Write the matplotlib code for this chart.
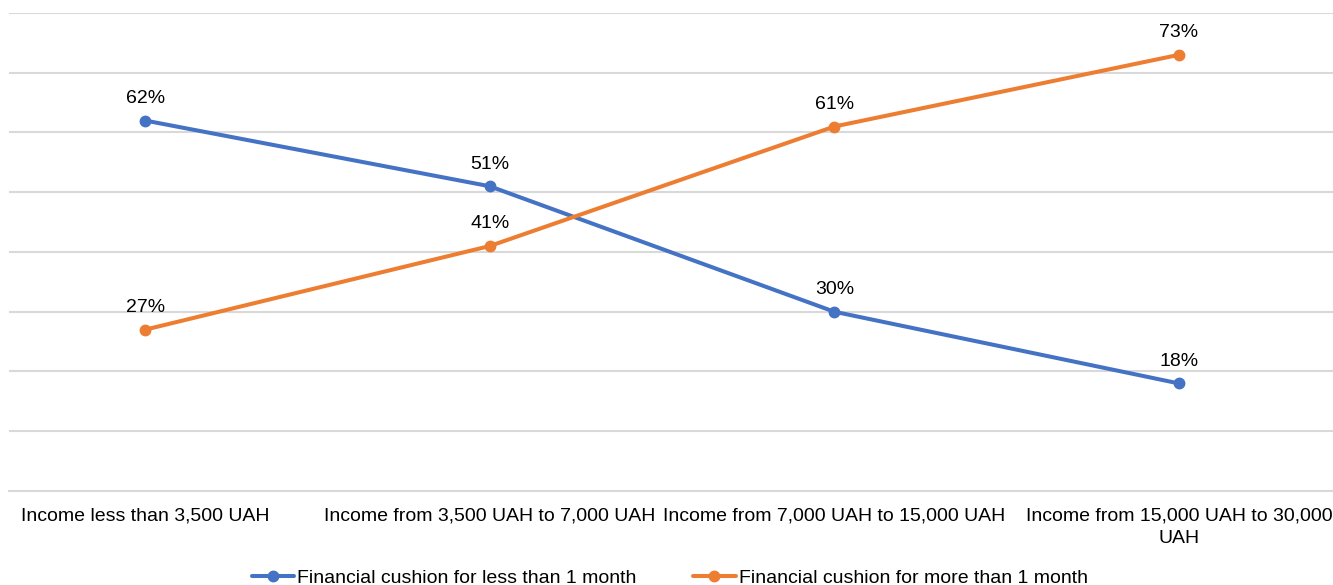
"""
Financial cushion by household income: line chart with value labels
"""
import matplotlib
matplotlib.use("Agg")
import matplotlib.pyplot as plt

plt.rcParams["font.family"] = ["Liberation Sans", "DejaVu Sans"]

categories = [
    "Income less than 3,500 UAH",
    "Income from 3,500 UAH to 7,000 UAH",
    "Income from 7,000 UAH to 15,000 UAH",
    "Income from 15,000 UAH to 30,000\nUAH",
]
less_than_month = [62, 51, 30, 18]
more_than_month = [27, 41, 61, 73]

series = [
    ("Financial cushion for less than 1 month", less_than_month, "#4472C4"),
    ("Financial cushion for more than 1 month", more_than_month, "#ED7D31"),
]

fig = plt.figure(figsize=(13.33, 5.85), dpi=100)
ax = fig.add_axes([0.0068, 0.1607, 0.9932, 0.8171])

x = list(range(len(categories)))
for name, values, color in series:
    ax.plot(x, values, color=color, linewidth=2.9, marker="o", markersize=7.5,
            label=name, solid_capstyle="round", zorder=3)
    for xi, v in zip(x, values):
        ax.annotate(f"{v}%", (xi, v), xytext=(0, 16), textcoords="offset points",
                    ha="center", va="center", fontsize=14, color="#000000")

ax.set_xlim(-0.395, 3.447)
ax.set_ylim(0, 80)
ax.set_yticks(range(0, 81, 10))
ax.set_yticklabels([])
ax.tick_params(axis="y", length=0)
ax.grid(axis="y", color="#D9D9D9", linewidth=1.5)
ax.set_axisbelow(True)

ax.set_xticks(x)
ax.set_xticklabels(categories, fontsize=14, linespacing=1.4)
ax.tick_params(axis="x", length=0, pad=12)

for side in ["top", "right", "left"]:
    ax.spines[side].set_visible(False)
ax.spines["bottom"].set_color("#D9D9D9")
ax.spines["bottom"].set_linewidth(1.5)

ax.legend(loc="center", bbox_to_anchor=(0.499, -0.183), ncol=2, frameon=False,
          fontsize=14, handlelength=2.2, handletextpad=0.15, columnspacing=2.9,
          borderaxespad=0, borderpad=0)

plt.savefig("out.png", dpi=100)
